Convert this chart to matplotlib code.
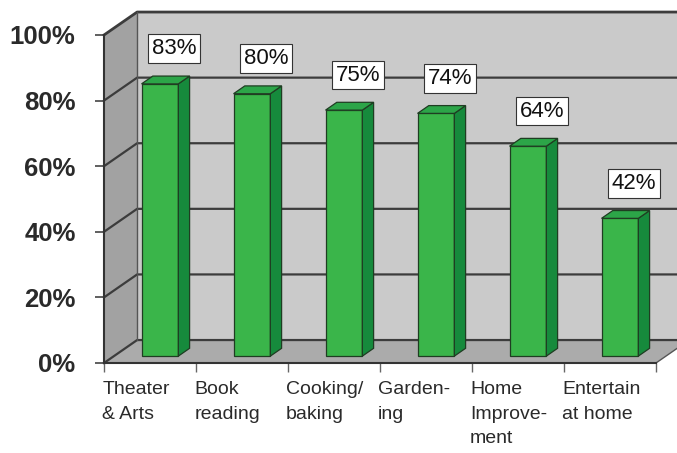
import numpy as np
import matplotlib.pyplot as plt
from matplotlib.patches import Polygon

# Survey results
categories = ['Theater\n& Arts', 'Book\nreading', 'Cooking/\nbaking', 'Garden-\ning',
              'Home\nImprove-\nment', 'Entertain\nat home']
values = [83, 80, 75, 74, 64, 42]
value_labels = ['83%', '80%', '75%', '74%', '64%', '42%']
y_ticks = [0, 20, 40, 60, 80, 100]
y_tick_labels = ['0%', '20%', '40%', '60%', '80%', '100%']

plt.rcParams['font.family'] = ['Liberation Sans', 'DejaVu Sans']

# depth of the fake 3D box, in data units (categories, percent)
DX = 0.36
DY = 7.0
n = len(categories)

fig = plt.figure(figsize=(6.77, 4.53), dpi=100)
ax = fig.add_axes([104 / 677, 90 / 453, 552 / 677, 328 / 453])
ax.set_xlim(-0.5, n - 0.5)
ax.set_ylim(0, 100)

def poly(pts, fc, ec='none', lw=0.0, z=1):
    p = Polygon(pts, closed=True, facecolor=fc, edgecolor=ec, linewidth=lw,
                zorder=z, clip_on=False)
    ax.add_patch(p)

x0, x1 = -0.5, n - 0.5
# back wall, left wall, floor
poly([(x0 + DX, DY), (x1 + DX, DY), (x1 + DX, 100 + DY), (x0 + DX, 100 + DY)],
     '#cacaca', z=0.5)
poly([(x0, 0), (x0 + DX, DY), (x0 + DX, 100 + DY), (x0, 100)], '#a2a2a2', z=0.6)
poly([(x0, 0), (x1, 0), (x1 + DX, DY), (x0 + DX, DY)], '#ababab', z=0.6)

# gridlines along left wall and back wall
for t in y_ticks:
    ax.plot([x0, x0 + DX, x1 + DX], [t, t + DY, t + DY], color='#3c3c3c',
            lw=1.6 if t < 100 else 2.0, zorder=0.8, clip_on=False)
ax.plot([x0 + DX, x0 + DX], [DY, 100 + DY], color='#555555', lw=1.0,
        zorder=0.8, clip_on=False)
ax.plot([x1, x1 + DX], [0, DY], color='#555555', lw=1.0, zorder=0.8, clip_on=False)

# bars: front face, side face, top face
bw = 0.40
f_front, f_back = 0.30, 0.64
edge = '#1f3d22'
for i, v in enumerate(values):
    fx, fy = f_front * DX, f_front * DY
    bx, by = f_back * DX, f_back * DY
    l = i - bw / 2 + fx
    r = i + bw / 2 + fx
    sdx, sdy = bx - fx, by - fy
    poly([(l, fy), (r, fy), (r, v + fy), (l, v + fy)], '#3ab54a', edge, 0.9, 3)
    poly([(r, fy), (r + sdx, fy + sdy), (r + sdx, v + fy + sdy), (r, v + fy)],
         '#168a3c', edge, 0.9, 3)
    poly([(l, v + fy), (r, v + fy), (r + sdx, v + fy + sdy), (l + sdx, v + fy + sdy)],
         '#2ca548', edge, 0.9, 3)
    ax.text(i + 0.26, v + 12.8, value_labels[i], ha='center', va='center',
            fontsize=16, color='#111111', zorder=5,
            bbox=dict(boxstyle='square,pad=0.17', facecolor='white',
                      edgecolor='#333333', linewidth=0.8))

# axes lines and ticks
for s in ['top', 'right']:
    ax.spines[s].set_visible(False)
ax.spines['left'].set_color('#333333')
ax.spines['bottom'].set_color('#333333')
ax.spines['left'].set_linewidth(1.5)
ax.spines['bottom'].set_linewidth(1.5)
ax.spines['left'].set_zorder(4)
ax.spines['bottom'].set_zorder(4)
ax.patch.set_visible(False)

ax.set_yticks(y_ticks)
ax.set_yticklabels(y_tick_labels, fontsize=18.5, fontweight='bold', color='#2a2a2a')
ax.tick_params(axis='y', length=6.5, width=1.2, color='#444444', pad=14)
ax.set_xticks(np.arange(n + 1) - 0.5)
ax.set_xticklabels([])
ax.tick_params(axis='x', length=6.5, width=1.0, color='#666666')

for i, c in enumerate(categories):
    ax.text(i - 0.52, -5.6, c, ha='left', va='top', fontsize=14,
            color='#2a2a2a', linespacing=1.55)

fig.savefig('out.png', dpi=100)
